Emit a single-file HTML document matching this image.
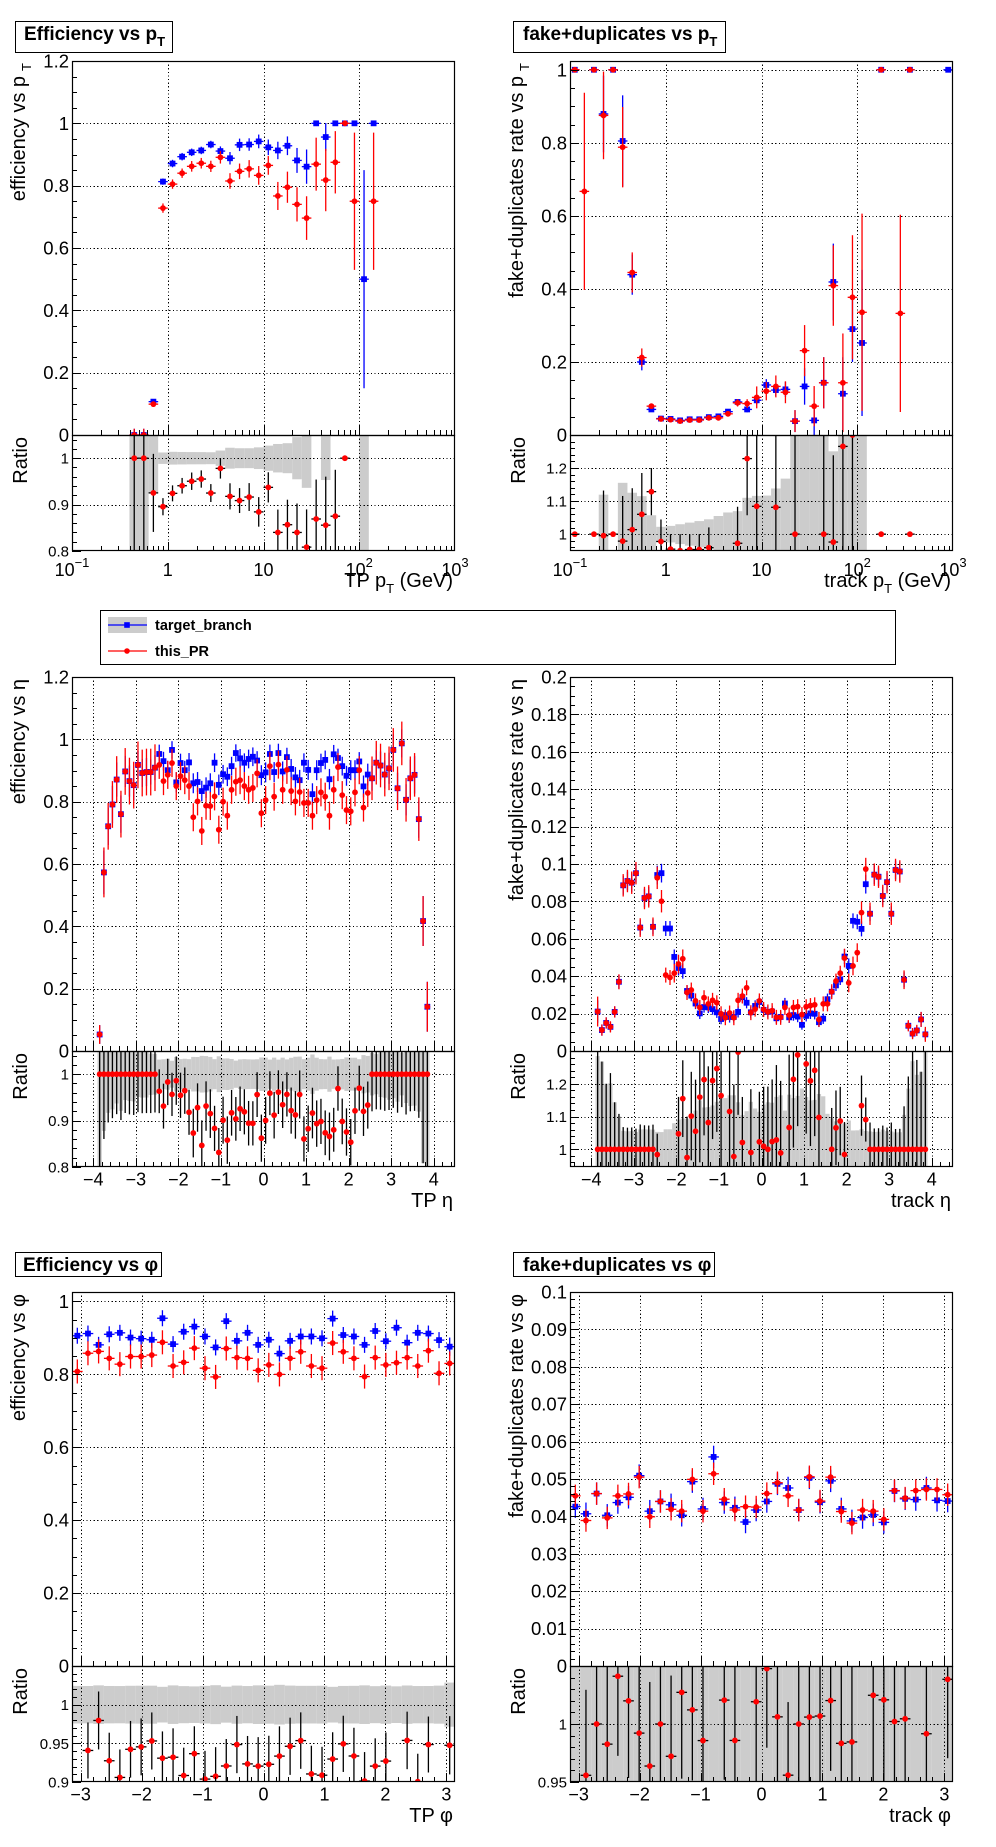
<!DOCTYPE html>
<html><head><meta charset="utf-8"><title>Tracking validation plots</title>
<style>
html,body{margin:0;padding:0;background:#fff;width:996px;height:1847px;overflow:hidden;position:relative;}
svg{display:block;position:absolute;left:0;top:0;font-family:"Liberation Sans",sans-serif;}
</style></head>
<body>
<svg id="c" width="996" height="1847" xmlns="http://www.w3.org/2000/svg">
<rect x="0" y="0" width="996" height="1847" fill="#fff"/>
<g>
<rect x="15.5" y="21.5" width="157" height="31" fill="#fff" stroke="#000"/>
<text x="24" y="40" font-size="19" font-weight="bold">Efficiency vs p<tspan font-size="13" dy="6">T</tspan></text></g>
<g>
<rect x="513.5" y="21.5" width="212" height="31" fill="#fff" stroke="#000"/>
<text x="523" y="40" font-size="19" font-weight="bold">fake+duplicates vs p<tspan font-size="13" dy="6">T</tspan></text></g>
<g>
<rect x="15.5" y="1252.5" width="146" height="24" fill="#fff" stroke="#000"/>
<text x="23" y="1271" font-size="19" font-weight="bold">Efficiency vs φ</text></g>
<g>
<rect x="513.5" y="1252.5" width="201" height="24" fill="#fff" stroke="#000"/>
<text x="523" y="1271" font-size="19" font-weight="bold">fake+duplicates vs φ</text></g>
<g>
<rect x="100.5" y="610.5" width="795" height="54" fill="#fff" stroke="#000"/>
<g>
<rect x="108" y="617" width="39" height="16" fill="#cccccc"/>
<line x1="108" y1="625" x2="147" y2="625" stroke="#0000ff" stroke-width="1.3"/>
<rect x="124.2" y="622.2" width="5.6" height="5.6" fill="#0000ff"/>
<text x="155" y="630" font-size="14.5" font-weight="bold">target_branch</text></g>
<g>
<line x1="108" y1="651" x2="147" y2="651" stroke="#ff0000" stroke-width="1.3"/>
<circle cx="127" cy="651" r="2.8" fill="#ff0000"/>
<text x="155" y="656" font-size="14.5" font-weight="bold">this_PR</text></g>
</g>
</svg>
<script>
// ---------- data: efficiency vs pT (log10 bin centers, bin width 0.1 decade) ----------
const effPtCenters = [-0.35,-0.25,-0.15,-0.05,0.05,0.15,0.25,0.35,0.45,0.55,0.65,0.75,0.85,0.95,1.05,1.15,1.25,1.35,1.45,1.55,1.65,1.75,1.85,1.95,2.05,2.15];
const effPtBlue = [0,0,0.107,0.813,0.871,0.893,0.907,0.913,0.932,0.911,0.888,0.931,0.932,0.942,0.923,0.913,0.928,0.881,0.861,1.0,0.956,1.0,1.0,1.0,0.50,1.0];
const effPtBlueErr = [0.02,0.02,0.008,0.01,0.012,0.012,0.012,0.012,0.012,0.015,0.02,0.02,0.02,0.022,0.025,0.028,0.03,0.04,0.055,0,0.045,0,0,0,0.35,0];
const effPtRed = [0,0,0.099,0.728,0.805,0.840,0.862,0.872,0.862,0.891,0.815,0.846,0.854,0.833,0.865,0.767,0.795,0.740,0.696,0.869,0.818,0.875,1.0,0.75,null,0.75];
const effPtRedErr = [0.02,0.02,0.009,0.015,0.015,0.015,0.017,0.017,0.018,0.02,0.025,0.025,0.028,0.03,0.03,0.045,0.05,0.055,0.07,0.085,0.1,0.1,0,0.22,null,0.22];

// ---------- data: fake rate vs pT ----------
const fakePtCenters = [-0.95,-0.85,-0.75,-0.65,-0.55,-0.45,-0.35,-0.25,-0.15,-0.05,0.05,0.15,0.25,0.35,0.45,0.55,0.65,0.75,0.85,0.95,1.05,1.15,1.25,1.35,1.45,1.55,1.65,1.75,1.85,1.95,2.05,2.15,2.25,2.35,2.45,2.55,2.65,2.75,2.85,2.95];
const fakePtBlue = [1.0,null,1.0,0.879,1.0,0.805,0.439,0.2,0.07,0.045,0.044,0.040,0.043,0.043,0.049,0.051,0.064,0.0905,0.070,0.095,0.137,0.123,0.125,0.038,0.133,0.04,0.143,0.419,0.113,0.29,0.252,null,1.0,null,null,1.0,null,null,null,1.0];
const fakePtBlueErr = [0,null,0,0.105,0,0.125,0.055,0.023,0.004,0.001,0.0011,0.0012,0.0015,0.0017,0.0022,0.0028,0.0042,0.0063,0.0077,0.011,0.016,0.017,0.021,0.03,0.05,0.04,0.07,0.105,0.1,0.09,0.2,null,0,null,null,0,null,null,null,0];
const fakePtRed = [1.0,0.667,1.0,0.875,1.0,0.788,0.445,0.212,0.079,0.044,0.042,0.038,0.041,0.041,0.047,0.047,0.058,0.088,0.086,0.103,0.12,0.133,0.117,0.038,0.231,0.079,0.143,0.409,0.143,0.377,0.336,null,1.0,null,0.333,1.0,null,null,null,null];
const fakePtRedErr = [0,0.27,0,0.12,0,0.11,0.055,0.025,0.005,0.003,0.002,0.002,0.002,0.002,0.003,0.003,0.004,0.01,0.012,0.03,0.025,0.03,0.03,0.03,0.07,0.055,0.07,0.11,0.135,0.17,0.27,null,0,null,0.27,0,null,null,null,null];

// ---------- data: efficiency / fake vs eta (78 bins of 0.1 from -3.9 to 3.9) ----------
const etaLo = -3.9, etaBinW = 0.1, etaNBins = 78;
const effEtaBlue = [0.053,0.573,0.721,0.791,0.871,0.760,0.897,0.866,0.853,0.918,0.892,0.895,0.895,0.909,
0.953,0.930,0.901,0.966,0.862,0.924,0.901,0.926,0.859,0.863,0.834,0.845,0.859,0.925,0.854,0.888,0.880,0.914,0.956,0.939,0.925,0.937,0.944,0.932,0.885,0.894,0.953,0.895,0.956,0.897,0.943,0.905,0.878,0.869,0.925,0.902,0.824,0.901,0.924,0.934,0.872,0.952,0.940,0.914,0.883,0.901,0.901,0.929,0.849,0.887,
0.875,0.925,0.916,0.887,0.907,0.966,0.843,0.987,0.806,0.875,0.886,0.744,0.417,0.142];
const effEtaBlueErr = [0.03,0.07,0.06,0.06,0.055,0.06,0.05,0.05,0.05,0.045,0.045,0.045,0.04,0.04,
0.03,0.03,0.03,0.028,0.032,0.03,0.03,0.03,0.032,0.032,0.033,0.033,0.032,0.03,0.033,0.03,0.03,0.03,0.028,0.03,0.03,0.03,0.03,0.03,0.032,0.032,0.03,0.032,0.03,0.032,0.03,0.032,0.033,0.033,0.03,0.032,0.035,0.032,0.03,0.03,0.033,0.03,0.03,0.03,0.032,0.032,0.032,0.03,0.035,0.035,
0.04,0.04,0.045,0.045,0.05,0.05,0.05,0.045,0.05,0.06,0.06,0.06,0.08,0.08];
const effEtaRed = [0.053,0.573,0.721,0.791,0.871,0.760,0.897,0.866,0.853,0.918,0.892,0.895,0.895,0.909,
0.918,0.866,0.886,0.924,0.850,0.882,0.869,0.850,0.750,0.801,0.706,0.787,0.786,0.817,0.710,0.800,0.755,0.838,0.864,0.869,0.850,0.838,0.844,0.891,0.763,0.805,0.914,0.816,0.919,0.838,0.902,0.834,0.801,0.831,0.796,0.796,0.755,0.805,0.830,0.816,0.755,0.838,0.911,0.821,0.773,0.769,0.830,0.901,0.781,0.828,
0.875,0.925,0.916,0.887,0.907,0.966,0.843,0.987,0.806,0.875,0.886,0.744,0.417,0.142];
const effEtaRedErr = [0.03,0.08,0.075,0.075,0.075,0.075,0.075,0.075,0.075,0.075,0.075,0.075,0.075,0.075,
0.045,0.045,0.045,0.045,0.045,0.045,0.045,0.045,0.045,0.045,0.045,0.045,0.045,0.045,0.045,0.045,0.045,0.045,0.045,0.045,0.045,0.045,0.045,0.045,0.045,0.045,0.045,0.045,0.045,0.045,0.045,0.045,0.045,0.045,0.045,0.045,0.045,0.045,0.045,0.045,0.045,0.045,0.045,0.045,0.045,0.045,0.045,0.045,0.045,0.045,
0.07,0.07,0.07,0.07,0.07,0.07,0.07,0.07,0.07,0.07,0.07,0.07,0.08,0.08];
const fakeEtaBlue = [0.0211,0.0112,0.015,0.0129,0.0209,0.037,0.0886,0.0909,0.090,0.0951,0.066,0.0818,0.0827,0.0664,
0.0941,0.0951,0.0655,0.0655,0.0503,0.0444,0.0427,0.0321,0.0296,0.0254,0.0201,0.0235,0.0233,0.0224,0.0207,0.0171,0.0192,0.0182,0.0182,0.0209,0.0288,0.0258,0.0207,0.0241,0.0262,0.022,0.0209,0.0211,0.0175,0.0182,0.0254,0.018,0.0192,0.0184,0.014,0.0188,0.0201,0.0199,0.0154,0.0173,0.0277,0.0317,0.0351,0.0383,0.0505,0.0455,0.0696,0.0691,0.0653,0.0892,
0.0734,0.0943,0.0932,0.0829,0.0903,0.0734,0.0968,0.096,0.0381,0.0135,0.0093,0.011,0.0169,0.0089];
const fakeEtaBlueErr = [0.006,0.003,0.003,0.0026,0.003,0.0037,0.005,0.005,0.005,0.005,0.004,0.005,0.005,0.004,
0.005,0.005,0.004,0.004,0.004,0.004,0.004,0.003,0.003,0.003,0.003,0.003,0.003,0.003,0.003,0.0028,0.003,0.003,0.003,0.003,0.003,0.003,0.003,0.003,0.003,0.003,0.003,0.003,0.0028,0.003,0.003,0.003,0.003,0.003,0.0026,0.003,0.003,0.003,0.0026,0.0028,0.003,0.003,0.003,0.003,0.004,0.004,0.004,0.004,0.004,0.005,
0.004,0.005,0.005,0.005,0.005,0.004,0.005,0.005,0.004,0.0025,0.0025,0.0025,0.004,0.003];
const fakeEtaRed = [0.0211,0.0112,0.015,0.0129,0.0209,0.037,0.0886,0.0909,0.090,0.0951,0.066,0.0818,0.0827,0.0664,
0.0926,0.0801,0.0406,0.0393,0.0416,0.0465,0.0493,0.0313,0.0326,0.0268,0.0233,0.0285,0.0252,0.0271,0.0258,0.0199,0.0178,0.0203,0.0178,0.0271,0.0294,0.0338,0.0205,0.0224,0.0268,0.0222,0.0209,0.0216,0.018,0.018,0.0233,0.0192,0.0233,0.0237,0.0195,0.0237,0.0243,0.0247,0.0169,0.0252,0.0252,0.0317,0.0374,0.0416,0.0497,0.0364,0.0455,0.0526,0.074,0.0973,
0.0734,0.0943,0.0932,0.0829,0.0903,0.0734,0.0968,0.096,0.0381,0.0135,0.0093,0.011,0.0169,0.0089];
const fakeEtaRedErr = [0.008,0.003,0.003,0.003,0.003,0.004,0.006,0.006,0.006,0.006,0.005,0.006,0.006,0.005,
0.006,0.006,0.004,0.004,0.005,0.005,0.005,0.004,0.004,0.004,0.004,0.004,0.004,0.004,0.004,0.004,0.004,0.004,0.004,0.004,0.004,0.004,0.004,0.004,0.004,0.004,0.004,0.004,0.004,0.004,0.004,0.004,0.004,0.004,0.004,0.004,0.004,0.004,0.004,0.004,0.004,0.004,0.004,0.004,0.005,0.005,0.005,0.005,0.006,0.006,
0.006,0.006,0.006,0.006,0.006,0.006,0.006,0.006,0.005,0.003,0.003,0.003,0.004,0.004];

// ---------- data: efficiency / fake vs phi (36 bins over -pi..pi) ----------
const phiNBins = 36;
const effPhiBlue = [0.906,0.912,0.881,0.910,0.914,0.901,0.898,0.895,0.954,0.883,0.917,0.931,0.904,0.874,0.946,0.892,0.914,0.881,0.895,0.857,0.892,0.904,0.904,0.899,0.953,0.908,0.904,0.881,0.919,0.891,0.928,0.887,0.914,0.912,0.894,0.876];
const effPhiBlueErr = [0.022,0.022,0.022,0.022,0.022,0.022,0.022,0.022,0.022,0.022,0.022,0.022,0.022,0.022,0.022,0.022,0.022,0.022,0.022,0.022,0.022,0.022,0.022,0.022,0.022,0.022,0.022,0.022,0.022,0.022,0.022,0.022,0.022,0.022,0.022,0.025];
const effPhiRed = [0.808,0.858,0.863,0.844,0.828,0.849,0.849,0.853,0.888,0.823,0.833,0.872,0.817,0.793,0.871,0.846,0.844,0.811,0.826,0.800,0.844,0.862,0.823,0.817,0.886,0.862,0.844,0.794,0.846,0.826,0.832,0.846,0.823,0.865,0.803,0.830];
const effPhiRedErr = [0.033,0.033,0.033,0.033,0.033,0.033,0.033,0.033,0.033,0.033,0.033,0.033,0.033,0.033,0.033,0.033,0.033,0.033,0.033,0.033,0.033,0.033,0.033,0.033,0.033,0.033,0.033,0.033,0.033,0.033,0.033,0.033,0.033,0.033,0.033,0.033];
const fakePhiBlue = [0.0426,0.0407,0.0461,0.0403,0.0437,0.0451,0.0509,0.0414,0.044,0.0431,0.0403,0.0493,0.042,0.0559,0.0437,0.0423,0.0385,0.0417,0.044,0.0487,0.0476,0.0417,0.0503,0.0438,0.0495,0.042,0.0388,0.0397,0.0404,0.0384,0.0468,0.0447,0.0445,0.0476,0.0443,0.0441];
const fakePhiBlueErr = [0.003,0.003,0.003,0.003,0.003,0.003,0.003,0.003,0.003,0.003,0.003,0.003,0.003,0.003,0.003,0.003,0.003,0.003,0.003,0.003,0.003,0.003,0.003,0.003,0.003,0.003,0.003,0.003,0.003,0.003,0.003,0.003,0.003,0.003,0.003,0.003];
const fakePhiRed = [0.0455,0.0389,0.0461,0.0396,0.0455,0.046,0.0505,0.0399,0.044,0.0419,0.0414,0.0499,0.0414,0.0514,0.0446,0.0417,0.0426,0.0425,0.0461,0.049,0.0455,0.0417,0.0506,0.0441,0.0505,0.0413,0.0382,0.0417,0.0414,0.0392,0.0469,0.0449,0.0469,0.0472,0.0472,0.0458];
const fakePhiRedErr = [0.003,0.003,0.003,0.003,0.003,0.003,0.003,0.003,0.003,0.003,0.003,0.003,0.003,0.003,0.003,0.003,0.003,0.003,0.003,0.003,0.003,0.003,0.003,0.003,0.003,0.003,0.003,0.003,0.003,0.003,0.003,0.003,0.003,0.003,0.003,0.003];

// ---------- tick labels ----------
const logTickVals = [-1,0,1,2,3];
const logTickBase = ['10','1','10','10','10'];
const logTickSup = ['−1','','','2','3'];
const etaTickVals = [-4,-3,-2,-1,0,1,2,3,4];
const etaTickLabels = ['−4','−3','−2','−1','0','1','2','3','4'];
const phiTickVals = [-3,-2,-1,0,1,2,3];
const phiTickLabels = ['−3','−2','−1','0','1','2','3'];
const effYTicks = [0,0.2,0.4,0.6,0.8,1,1.2];
const effYLabels = ['0','0.2','0.4','0.6','0.8','1','1.2'];
const fakePtYTicks = [0,0.2,0.4,0.6,0.8,1];
const fakePtYLabels = ['0','0.2','0.4','0.6','0.8','1'];
const fakeEtaYTicks = [0,0.02,0.04,0.06,0.08,0.1,0.12,0.14,0.16,0.18,0.2];
const fakeEtaYLabels = ['0','0.02','0.04','0.06','0.08','0.1','0.12','0.14','0.16','0.18','0.2'];
const effPhiYTicks = [0,0.2,0.4,0.6,0.8,1];
const effPhiYLabels = ['0','0.2','0.4','0.6','0.8','1'];
const fakePhiYTicks = [0,0.01,0.02,0.03,0.04,0.05,0.06,0.07,0.08,0.09,0.1];
const fakePhiYLabels = ['0','0.01','0.02','0.03','0.04','0.05','0.06','0.07','0.08','0.09','0.1'];
const ratioLowTicks = [0.8,0.9,1];
const ratioLowLabels = ['0.8','0.9','1'];
const ratioHighTicks = [1,1.1,1.2];
const ratioHighLabels = ['1','1.1','1.2'];
const ratioPhiEffTicks = [0.9,0.95,1];
const ratioPhiEffLabels = ['0.9','0.95','1'];
const ratioPhiFakeTicks = [0.95,1];
const ratioPhiFakeLabels = ['0.95','1'];

const NS = 'http://www.w3.org/2000/svg';
const svg = document.getElementById('c');
let clipId = 0;
function mk(tag, attrs, parent) {
  const e = document.createElementNS(NS, tag);
  for (const k in attrs) e.setAttribute(k, attrs[k]);
  parent.appendChild(e);
  return e;
}
function rangeCenters(lo, w, n) { const a = []; for (let i = 0; i < n; i++) a.push(lo + w * (i + 0.5)); return a; }
function ticksBetween(lo, hi, step) {
  const a = []; const s = Math.ceil(lo / step - 1e-6);
  for (let k = s; k * step <= hi + 1e-9; k++) a.push(+(k * step).toFixed(6));
  return a;
}

function panel(c) {
  const g = mk('g', {}, svg);
  
  
  const X = v => c.x0 + (v - c.xmin) / (c.xmax - c.xmin) * (c.x1 - c.x0);
  const Y = v => c.y1 - (v - c.ymin) / (c.ymax - c.ymin) * (c.y1 - c.y0);
  const R = v => c.y2 - (v - c.rmin) / (c.rmax - c.rmin) * (c.y2 - c.y1);
  const Yc = v => Math.max(c.y0, Math.min(c.y1, Y(v)));
  const Rc = v => Math.max(c.y1, Math.min(c.y2, R(v)));
  const Xc = v => Math.max(c.x0, Math.min(c.x1, X(v)));
  const defs = mk('defs', {}, g);
  const cm = 'clip' + (clipId++), cr = 'clip' + (clipId++);
  const cpm = mk('clipPath', { id: cm }, defs);
  mk('rect', { x: c.x0, y: c.y0, width: c.x1 - c.x0, height: c.y1 - c.y0 }, cpm);
  const cpr = mk('clipPath', { id: cr }, defs);
  mk('rect', { x: c.x0, y: c.y1, width: c.x1 - c.x0, height: c.y2 - c.y1 }, cpr);

  // ratio band
  const band = mk('g', { 'clip-path': 'url(#' + cr + ')' }, g);
  
  
  const hw = c.binW / 2;
  for (let i = 0; i < c.centers.length; i++) {
    const b = c.blue[i], be = c.blueErr[i];
    if (b == null || be == null || be <= 0) continue;
    let e = b > 0 ? be / b : 10;
    e = Math.min(e, 10);
    const xa = Xc(c.centers[i] - hw), xb = Xc(c.centers[i] + hw);
    const ya = Rc(1 + e), yb = Rc(1 - e);
    if (xb - xa <= 0 || yb - ya <= 0) continue;
    const r = mk('rect', { x: xa, y: ya, width: xb - xa, height: yb - ya, fill: '#cccccc' }, band);
    
    
  }

  // grid
  const grid = mk('g', { stroke: '#000', 'stroke-width': 1, 'stroke-dasharray': '1.2,2.4', 'shape-rendering': 'crispEdges' }, g);
  
  
  c.xGrid.forEach(v => {
    const x = Math.round(X(v)) + 0.5;
    mk('line', { x1: x, y1: c.y0, x2: x, y2: c.y1 }, grid);
    mk('line', { x1: x, y1: c.y1, x2: x, y2: c.y2 }, grid);
  });
  c.yTicks.forEach(v => { const y = Math.round(Y(v)) + 0.5; if (y > c.y0 + 1 && y < c.y1 - 1) mk('line', { x1: c.x0, y1: y, x2: c.x1, y2: y }, grid); });
  c.rTicks.forEach(v => { const y = Math.round(R(v)) + 0.5; if (y > c.y1 + 1 && y < c.y2 - 1) mk('line', { x1: c.x0, y1: y, x2: c.x1, y2: y }, grid); });

  // series in main pad
  function series(vals, errs, color, isSquare, nm) {
    const s = mk('g', { 'clip-path': 'url(#' + cm + ')', stroke: color, 'stroke-width': 1.3 }, g);
    
    
    for (let i = 0; i < c.centers.length; i++) {
      const v = vals[i]; if (v == null) continue;
      const e = errs[i] || 0;
      const xc = X(c.centers[i]), y = Yc(v);
      mk('line', { x1: Xc(c.centers[i] - hw), y1: y, x2: Xc(c.centers[i] + hw), y2: y }, s);
      if (e > 0) mk('line', { x1: xc, y1: Yc(v + e), x2: xc, y2: Yc(v - e) }, s);
      let m;
      if (isSquare) m = mk('rect', { x: xc - 2.9, y: y - 2.9, width: 5.8, height: 5.8, fill: color, stroke: 'none' }, s);
      else m = mk('circle', { cx: xc, cy: y, r: 2.9, fill: color, stroke: 'none' }, s);
      
      
    }
  }
  series(c.blue, c.blueErr, '#0000ff', true, 'target-branch-series');
  series(c.red, c.redErr, '#ff0000', false, 'this-pr-series');

  // ratio points
  const rs = mk('g', { 'clip-path': 'url(#' + cr + ')', 'stroke-width': 1.3 }, g);
  
  
  for (let i = 0; i < c.centers.length; i++) {
    const b = c.blue[i], r = c.red[i];
    if (b == null || r == null) continue;
    let ratio, err;
    if (b === 0) { if (r !== 0) continue; ratio = 1; err = 10; }
    else { ratio = r / b; err = Math.min((c.redErr[i] || 0) / b, 10); }
    if (ratio < c.rmin || ratio > c.rmax) continue;
    const xc = X(c.centers[i]), y = R(ratio);
    mk('line', { x1: Xc(c.centers[i] - hw), y1: y, x2: Xc(c.centers[i] + hw), y2: y, stroke: '#000' }, rs);
    if (err > 0) mk('line', { x1: xc, y1: Rc(ratio + err), x2: xc, y2: Rc(ratio - err), stroke: '#000' }, rs);
    const m = mk('circle', { cx: xc, cy: y, r: 2.9, fill: '#ff0000' }, rs);
    
    
  }

  // frames
  const fm = mk('rect', { x: c.x0 + 0.5, y: c.y0 + 0.5, width: c.x1 - c.x0 - 1, height: c.y1 - c.y0, fill: 'none', stroke: '#000', 'stroke-width': 1.2 }, g);
  
  
  const fr = mk('rect', { x: c.x0 + 0.5, y: c.y1 + 0.5, width: c.x1 - c.x0 - 1, height: c.y2 - c.y1 - 1, fill: 'none', stroke: '#000', 'stroke-width': 1.2 }, g);
  
  

  // ticks
  const tk = mk('g', { stroke: '#000', 'stroke-width': 1, 'shape-rendering': 'crispEdges' }, g);
  
  
  ticksBetween(c.ymin, c.ymax, c.yMinor).forEach(v => { const y = Math.round(Y(v)) + 0.5; mk('line', { x1: c.x0, y1: y, x2: c.x0 + 5, y2: y }, tk); });
  c.yTicks.forEach(v => { const y = Math.round(Y(v)) + 0.5; mk('line', { x1: c.x0, y1: y, x2: c.x0 + 9, y2: y }, tk); });
  ticksBetween(c.rmin, c.rmax, c.rMinor).forEach(v => { const y = Math.round(R(v)) + 0.5; mk('line', { x1: c.x0, y1: y, x2: c.x0 + 5, y2: y }, tk); });
  c.rTicks.forEach(v => { const y = Math.round(R(v)) + 0.5; mk('line', { x1: c.x0, y1: y, x2: c.x0 + 9, y2: y }, tk); });
  let xMin = [], xMaj = c.xMajor;
  if (c.log) { for (let d = Math.floor(c.xmin); d < c.xmax; d++) for (let k = 2; k <= 9; k++) xMin.push(d + Math.log10(k)); }
  else xMin = ticksBetween(c.xmin, c.xmax, c.xMinor);
  [[c.y1, 10, 5], [c.y2, 9, 5]].forEach(([yb, lM, lm]) => {
    xMin.forEach(v => { const x = Math.round(X(v)) + 0.5; if (x > c.x0 + 1 && x < c.x1 - 1) mk('line', { x1: x, y1: yb, x2: x, y2: yb - lm }, tk); });
    xMaj.forEach(v => { const x = Math.round(X(v)) + 0.5; if (x > c.x0 + 1 && x < c.x1 - 1) mk('line', { x1: x, y1: yb, x2: x, y2: yb - lM }, tk); });
  });

  // labels
  const lb = mk('g', { 'font-size': 18.5, fill: '#000' }, g);
  
  
  c.yTicks.forEach((v, i) => { const t = mk('text', { x: c.x0 - 3, y: Y(v) + 6.5, 'text-anchor': 'end' }, lb); t.textContent = c.yLabels[i]; });
  c.rTicks.forEach((v, i) => { const t = mk('text', { x: c.x0 - 3, y: R(v) + 5.5, 'text-anchor': 'end', 'font-size': 15 }, lb); t.textContent = c.rLabels[i]; });
  if (c.log) {
    logTickVals.forEach((v, i) => {
      const t = mk('text', { x: X(v), y: c.y2 + 25, 'text-anchor': 'middle', 'font-size': 18 }, lb);
      t.textContent = logTickBase[i];
      if (logTickSup[i]) { const s = mk('tspan', { 'font-size': 13, dy: -9 }, t); s.textContent = logTickSup[i]; }
    });
  } else {
    c.xMajor.forEach((v, i) => { const t = mk('text', { x: X(v), y: c.y2 + 18.5, 'text-anchor': 'middle', 'font-size': 18 }, lb); t.textContent = c.xLabels[i]; });
  }
  // axis titles
  const xt = mk('text', { x: c.x1 - 2, y: c.y2 + c.xTitleDy, 'text-anchor': 'end', 'font-size': 20 }, g);
  
  
  xt.textContent = c.xTitle;
  if (c.xTitleSub) {
    const s1 = mk('tspan', { 'font-size': 13, dy: 6 }, xt); s1.textContent = c.xTitleSub;
    const s2 = mk('tspan', { dy: -6 }, xt); s2.textContent = c.xTitleTail;
  }
  const yt = mk('text', { transform: 'translate(' + c.yTitleX + ',' + (c.y0 + 2) + ') rotate(-90)', 'text-anchor': 'end', 'font-size': 20 }, g);
  
  
  yt.textContent = c.yTitle;
  if (c.yTitleSub) { const s = mk('tspan', { 'font-size': 13, dy: 6, dx: 5 }, yt); s.textContent = c.yTitleSub; }
  const rt = mk('text', { transform: 'translate(' + (c.yTitleX + 2) + ',' + (c.y1 + 2) + ') rotate(-90)', 'text-anchor': 'end', 'font-size': 20 }, g);
  
  
  rt.textContent = 'Ratio';
}

const L = { x0: 72, x1: 455 }, Rt = { x0: 570, x1: 953 };
const ptCommon = { log: true, xmin: -1, xmax: 3, xMajor: [-1, 0, 1, 2, 3], xGrid: [0, 1, 2], binW: 0.1, y0: 61, y1: 435, y2: 551, xTitleDy: 36 };
const etaCommon = { log: false, xmin: -4.5, xmax: 4.5, xMajor: etaTickVals, xLabels: etaTickLabels, xMinor: 0.2, xGrid: etaTickVals, binW: etaBinW, y0: 677, y1: 1051, y2: 1167, xTitleDy: 40, centers: rangeCenters(etaLo, etaBinW, etaNBins) };
const phiW = 2 * Math.PI / phiNBins;
const phiCommon = { log: false, xmin: -Math.PI, xmax: Math.PI, xMajor: phiTickVals, xLabels: phiTickLabels, xMinor: 0.2, xGrid: phiTickVals, binW: phiW, y0: 1292, y1: 1666, y2: 1782, xTitleDy: 40, centers: rangeCenters(-Math.PI, phiW, phiNBins) };

panel(Object.assign({}, ptCommon, L, { name: 'efficiency-vs-pt-panel', centers: effPtCenters, blue: effPtBlue, blueErr: effPtBlueErr, red: effPtRed, redErr: effPtRedErr,
  ymin: 0, ymax: 1.2, yTicks: effYTicks, yLabels: effYLabels, yMinor: 0.05, rmin: 0.8, rmax: 1.05, rTicks: ratioLowTicks, rLabels: ratioLowLabels, rMinor: 0.02,
  xTitle: 'TP p', xTitleSub: 'T', xTitleTail: ' (GeV)', yTitle: 'efficiency vs p', yTitleSub: 'T', yTitleX: 25 }));
panel(Object.assign({}, ptCommon, Rt, { name: 'fake-rate-vs-pt-panel', centers: fakePtCenters, blue: fakePtBlue, blueErr: fakePtBlueErr, red: fakePtRed, redErr: fakePtRedErr,
  ymin: 0, ymax: 1.024, yTicks: fakePtYTicks, yLabels: fakePtYLabels, yMinor: 0.05, rmin: 0.949, rmax: 1.3, rTicks: ratioHighTicks, rLabels: ratioHighLabels, rMinor: 0.02,
  xTitle: 'track p', xTitleSub: 'T', xTitleTail: ' (GeV)', yTitle: 'fake+duplicates rate vs p', yTitleSub: 'T', yTitleX: 523 }));
panel(Object.assign({}, etaCommon, L, { name: 'efficiency-vs-eta-panel', blue: effEtaBlue, blueErr: effEtaBlueErr, red: effEtaRed, redErr: effEtaRedErr,
  ymin: 0, ymax: 1.2, yTicks: effYTicks, yLabels: effYLabels, yMinor: 0.05, rmin: 0.8, rmax: 1.05, rTicks: ratioLowTicks, rLabels: ratioLowLabels, rMinor: 0.02,
  xTitle: 'TP η', yTitle: 'efficiency vs  η', yTitleX: 25 }));
panel(Object.assign({}, etaCommon, Rt, { name: 'fake-rate-vs-eta-panel', blue: fakeEtaBlue, blueErr: fakeEtaBlueErr, red: fakeEtaRed, redErr: fakeEtaRedErr,
  ymin: 0, ymax: 0.2, yTicks: fakeEtaYTicks, yLabels: fakeEtaYLabels, yMinor: 0.005, rmin: 0.946, rmax: 1.3, rTicks: ratioHighTicks, rLabels: ratioHighLabels, rMinor: 0.02,
  xTitle: 'track  η', yTitle: 'fake+duplicates rate vs  η', yTitleX: 523 }));
panel(Object.assign({}, phiCommon, L, { name: 'efficiency-vs-phi-panel', blue: effPhiBlue, blueErr: effPhiBlueErr, red: effPhiRed, redErr: effPhiRedErr,
  ymin: 0, ymax: 1.026, yTicks: effPhiYTicks, yLabels: effPhiYLabels, yMinor: 0.05, rmin: 0.9, rmax: 1.05, rTicks: ratioPhiEffTicks, rLabels: ratioPhiEffLabels, rMinor: 0.01,
  xTitle: 'TP φ', yTitle: 'efficiency vs  φ', yTitleX: 25 }));
panel(Object.assign({}, phiCommon, Rt, { name: 'fake-rate-vs-phi-panel', blue: fakePhiBlue, blueErr: fakePhiBlueErr, red: fakePhiRed, redErr: fakePhiRedErr,
  ymin: 0, ymax: 0.1, yTicks: fakePhiYTicks, yLabels: fakePhiYLabels, yMinor: 0.002, rmin: 0.95, rmax: 1.05, rTicks: ratioPhiFakeTicks, rLabels: ratioPhiFakeLabels, rMinor: 0.01,
  xTitle: 'track  φ', yTitle: 'fake+duplicates rate vs  φ', yTitleX: 523 }));
</script>
</body></html>
